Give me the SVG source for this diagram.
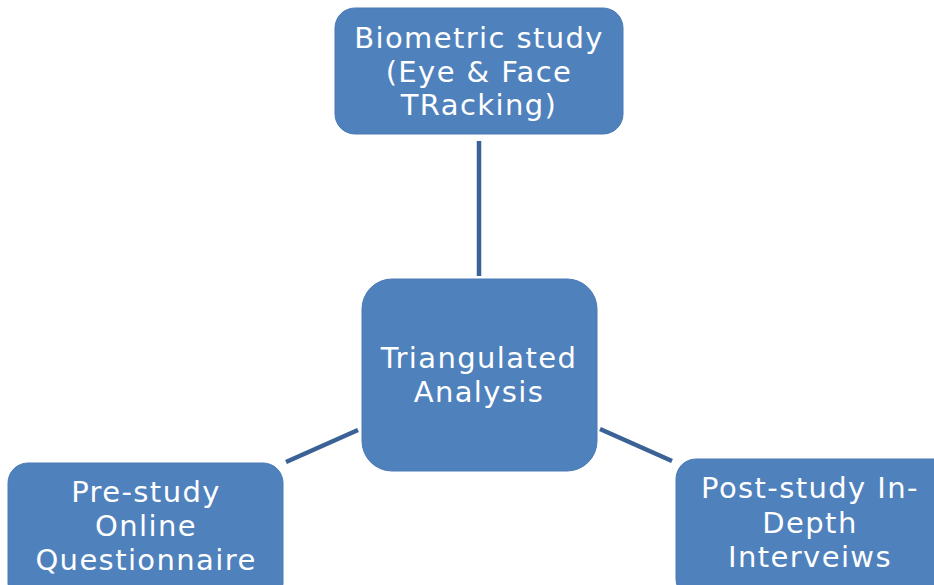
<svg xmlns="http://www.w3.org/2000/svg" width="934" height="585" viewBox="0 0 934 585">
<style>
.box{fill:#4f81bd;stroke:#4a7ab5;stroke-width:1}
.t{font-family:"DejaVu Sans","Liberation Sans",sans-serif;font-size:29px;letter-spacing:1.4px;fill:#ffffff;text-anchor:middle}
.c{stroke:#3b6296;stroke-width:4.5;fill:none}
</style>
<rect width="934" height="585" fill="#ffffff"/>
<g id="connectors">
<line class="c" x1="479" y1="141" x2="479" y2="276"/>
<line class="c" x1="286" y1="462" x2="358" y2="430"/>
<line class="c" x1="600" y1="429" x2="672" y2="461"/>
</g>
<g id="biometric">
<rect class="box" x="335" y="8" width="288" height="126" rx="20"/>
<text class="t" x="479" y="48">Biometric study</text>
<text class="t" x="479" y="82">(Eye &amp; Face</text>
<text class="t" x="479" y="115">TRacking)</text>
</g>
<g id="triangulated">
<rect class="box" x="362" y="279" width="235" height="192" rx="30"/>
<text class="t" x="479" y="368">Triangulated</text>
<text class="t" x="479" y="402">Analysis</text>
</g>
<g id="prestudy">
<rect class="box" x="8" y="463" width="275" height="140" rx="20"/>
<text class="t" x="146" y="502">Pre-study</text>
<text class="t" x="146" y="536">Online</text>
<text class="t" x="146" y="570">Questionnaire</text>
</g>
<g id="poststudy">
<rect class="box" x="676" y="459" width="280" height="140" rx="20"/>
<text class="t" x="810" y="498">Post-study In-</text>
<text class="t" x="810" y="533">Depth</text>
<text class="t" x="810" y="567">Interveiws</text>
</g>
</svg>
